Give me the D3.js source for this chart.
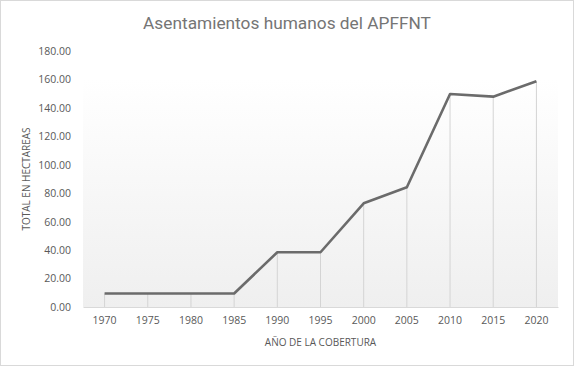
<!DOCTYPE html>
<html><head><meta charset="utf-8">
<script src="https://cdn.jsdelivr.net/npm/d3@7"></script>
<style>body{margin:0;background:#fff}svg{display:block}</style>
</head><body>
<svg id="c" width="574" height="366"></svg>
<script>
const years = ["1970","1975","1980","1985","1990","1995","2000","2005","2010","2015","2020"];
const values = [9.5, 9.5, 9.5, 9.5, 38.5, 38.5, 72.9, 84.2, 149.8, 147.9, 158.7];
const yTicks = [0,20,40,60,80,100,120,140,160,180];
const title = "Asentamientos humanos del APFFNT";
const xTitle = "AÑO DE LA COBERTURA";
const yTitle = "TOTAL EN HECTAREAS";

const svg = d3.select("#c");
const font = "'Open Sans', 'Liberation Sans', sans-serif";
svg.append("rect").attr("x",0.5).attr("y",0.5).attr("width",573).attr("height",365)
  .attr("fill","#fff").attr("stroke","#d9d9d9");

const L=83, R=558, T=51, B=307;
const x = d3.scaleBand().domain(years).range([L,R]);
const y = d3.scaleLinear().domain([0,180]).range([B,T]);

const defs = svg.append("defs");
const g = defs.append("linearGradient").attr("id","bg").attr("x1",0).attr("y1",0).attr("x2",0).attr("y2",1);
g.append("stop").attr("offset","0%").attr("stop-color","#ffffff");
g.append("stop").attr("offset","100%").attr("stop-color","#efefef");
svg.append("rect").attr("x",L).attr("y",79).attr("width",R-L).attr("height",B-79).attr("fill","url(#bg)");

// drop lines
svg.append("g").selectAll("line").data(years).join("line")
  .attr("x1",(d)=>x(d)+x.bandwidth()/2).attr("x2",(d)=>x(d)+x.bandwidth()/2)
  .attr("y1",(d,i)=>y(values[i])).attr("y2",B)
  .attr("stroke","#d4d4d4").attr("stroke-width",1);

// x axis
const xa = svg.append("g").attr("transform",`translate(0,${B})`).call(d3.axisBottom(x).tickSize(0).tickPadding(10));
xa.select(".domain").attr("stroke","#d9d9d9").attr("stroke-width",1.2);
xa.selectAll("text").attr("font-family",font).attr("font-size",10.5).attr("fill","#595959");

// y axis
const ya = svg.append("g").attr("transform",`translate(${L},0)`).call(d3.axisLeft(y).tickValues(yTicks).tickSize(0).tickPadding(12).tickFormat(d3.format(".2f")));
ya.select(".domain").remove();
ya.selectAll("text").attr("font-family",font).attr("font-size",10.5).attr("fill","#595959");

// line
const line = d3.line().x((d,i)=>x(years[i])+x.bandwidth()/2).y(d=>y(d));
svg.append("path").datum(values).attr("d",line).attr("fill","none")
  .attr("stroke","#6b6b6b").attr("stroke-width",2.6).attr("stroke-linejoin","round");

svg.append("text").attr("x",287).attr("y",29).attr("text-anchor","middle")
  .attr("font-family","Roboto, 'Open Sans', sans-serif").attr("font-size",17.3).attr("fill","#757575").text(title);
svg.append("text").attr("x",(L+R)/2).attr("y",346).attr("text-anchor","middle")
  .attr("font-family",font).attr("font-size",10).attr("fill","#595959").text(xTitle);
svg.append("text").attr("transform",`translate(30,${(T+B)/2}) rotate(-90)`).attr("text-anchor","middle")
  .attr("font-family",font).attr("font-size",10).attr("fill","#595959").text(yTitle);
</script>
</body></html>
